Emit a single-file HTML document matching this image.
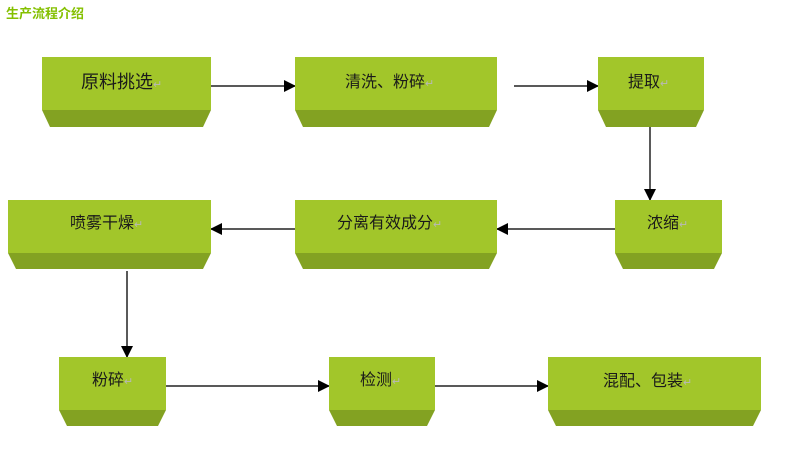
<!DOCTYPE html>
<html><head><meta charset="utf-8"><style>
html,body{margin:0;padding:0;background:#fff;width:789px;height:452px;overflow:hidden}
svg{display:block}
text{font-family:"Liberation Sans","Noto Sans CJK SC",sans-serif;fill:#1a1a1a}
.t{fill:#84c000;font-weight:bold;font-size:13px}
.f{fill:#a2c62a}.b{fill:#83a222}
.r{fill:#b8b8b8;font-size:11px}
</style></head><body>
<svg width="789" height="452" viewBox="0 0 789 452">
<defs><marker id="a" markerWidth="12" markerHeight="12" refX="11" refY="6" orient="auto" markerUnits="userSpaceOnUse"><path d="M0,0 L12,6 L0,12 z" fill="#000"/></marker></defs>
<text class="t" x="6" y="18">生产流程介绍</text>
<g stroke="#222" stroke-width="1.5" fill="none" marker-end="url(#a)">
<line x1="211" y1="86" x2="295" y2="86"/>
<line x1="514" y1="86" x2="598" y2="86"/>
<line x1="650" y1="127" x2="650" y2="200"/>
<line x1="615" y1="229" x2="497" y2="229"/>
<line x1="295" y1="229" x2="211" y2="229"/>
<line x1="127" y1="271" x2="127" y2="357"/>
<line x1="161" y1="386" x2="329" y2="386"/>
<line x1="429" y1="386" x2="548" y2="386"/>
</g>
<g>
<rect class="f" x="42" y="57" width="169" height="53"/><polygon class="b" points="42,110 211,110 203,127 50,127"/>
<rect class="f" x="295" y="57" width="202" height="53"/><polygon class="b" points="295,110 497,110 489,127 303,127"/>
<rect class="f" x="598" y="57" width="106" height="53"/><polygon class="b" points="598,110 704,110 696,127 606,127"/>
<rect class="f" x="615" y="200" width="107" height="53"/><polygon class="b" points="615,253 722,253 714,269 623,269"/>
<rect class="f" x="295" y="200" width="202" height="53"/><polygon class="b" points="295,253 497,253 489,269 303,269"/>
<rect class="f" x="8" y="200" width="203" height="53"/><polygon class="b" points="8,253 211,253 203,269 16,269"/>
<rect class="f" x="59" y="357" width="107" height="53"/><polygon class="b" points="59,410 166,410 158,426 67,426"/>
<rect class="f" x="329" y="357" width="106" height="53"/><polygon class="b" points="329,410 435,410 427,426 337,426"/>
<rect class="f" x="548" y="357" width="213" height="53"/><polygon class="b" points="548,410 761,410 753,426 556,426"/>
</g>
<g font-size="18">
<text x="81" y="88">原料挑选<tspan class="r">↵</tspan></text>
</g>
<g font-size="16">
<text x="345" y="87">清洗、粉碎<tspan class="r">↵</tspan></text>
<text x="628" y="87">提取<tspan class="r">↵</tspan></text>
<text x="647" y="228">浓缩<tspan class="r">↵</tspan></text>
<text x="337" y="228">分离有效成分<tspan class="r">↵</tspan></text>
<text x="70" y="228">喷雾干燥<tspan class="r">↵</tspan></text>
<text x="92" y="385">粉碎<tspan class="r">↵</tspan></text>
<text x="360" y="385">检测<tspan class="r">↵</tspan></text>
<text x="603" y="386">混配、包装<tspan class="r">↵</tspan></text>
</g>
</svg>
</body></html>
